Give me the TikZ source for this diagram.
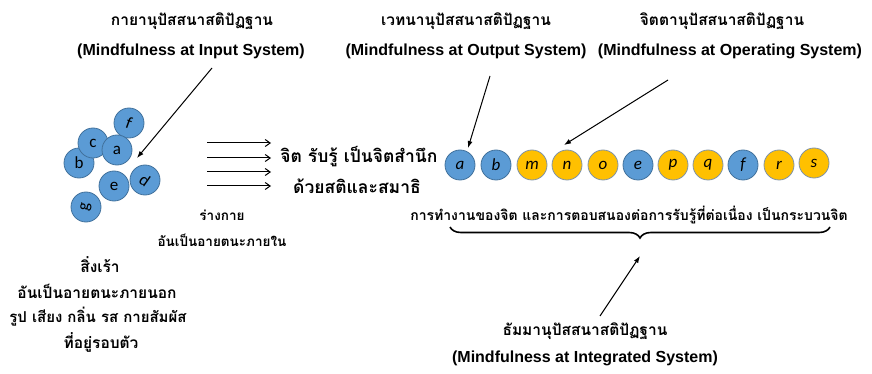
\documentclass[tikz,border=0pt]{standalone}
\usepackage{fontspec}
\setmainfont{Liberation Sans}
\newfontfamily\thaifont[Script=Thai]{Loma}
\newfontfamily\letterfont{Carlito}
\usetikzlibrary{arrows.meta,decorations.pathreplacing}
\definecolor{dotblue}{HTML}{5B9BD5}
\definecolor{dotblueedge}{HTML}{41719C}
\definecolor{dotgold}{HTML}{FFC000}
\definecolor{dotgoldedge}{HTML}{7F93A8}
\tikzset{
  thai/.style={font=\thaifont\bfseries\fontsize{15.5}{17}\selectfont, inner sep=0pt},
  thaibig/.style={font=\thaifont\bfseries\fontsize{17.5}{19}\selectfont, inner sep=0pt},
  thaismall/.style={font=\thaifont\bfseries\fontsize{13.5}{15}\selectfont, inner sep=0pt},
  eng/.style={font=\bfseries\fontsize{16}{18}\selectfont, inner sep=0pt},
  blob/.style={circle, minimum size=30pt, inner sep=0pt, line width=0.8pt,
    font=\letterfont\fontsize{17}{18}\selectfont},
  bluedot/.style={blob, fill=dotblue, draw=dotblueedge},
  golddot/.style={blob, fill=dotgold, draw=dotgoldedge},
  rowdot/.style={font=\letterfont\itshape\fontsize{17}{18}\selectfont},
  pointer/.style={-{Latex[length=7pt,width=5pt]}, line width=1pt},
  flow/.style={-{Straight Barb[length=5pt,width=7pt]}, line width=1pt},
}
\begin{document}
\begin{tikzpicture}[x=1pt,y=-1pt]
\useasboundingbox (0,0) rectangle (872,374);

% headings of the four foundations
\node[thai] (kt) at (192,21) {กายานุปัสสนาสติปัฏฐาน};
\node[eng]  (ke) at (191,51) {(Mindfulness at Input System)};
\node[thai] (vt) at (466,21) {เวทนานุปัสสนาสติปัฏฐาน};
\node[eng]  (ve) at (466,51) {(Mindfulness at Output System)};
\node[thai] (ct) at (722,21) {จิตตานุปัสสนาสติปัฏฐาน};
\node[eng]  (ce) at (730,51) {(Mindfulness at Operating System)};

% scattered stimuli
\node[bluedot] (sf) at (129,123) {\rotatebox{-20}{f}};
\node[bluedot] (sb) at (79,163) {b};
\node[bluedot] (sc) at (93,143) {c};
\node[bluedot] (sa) at (117,150) {a};
\node[bluedot] (se) at (114,186) {e};
\node[bluedot] (sd) at (145,180) {\rotatebox{-35}{d}};
\node[bluedot] (sg) at (86,207) {\rotatebox{80}{g}};
\coordinate (kin) at (137,158);

% four parallel flows
\foreach \i/\yy in {1/143,2/158,3/172,4/186}{
  \coordinate (fs\i) at (207,\yy);
  \coordinate (fe\i) at (271,\yy);
  \draw[flow] (fs\i) -- (fe\i);
}
\node[thaibig] (mind1) at (359,157) {จิต รับรู้ เป็นจิตสำนึก};
\node[thaibig] (mind2) at (357,186) {ด้วยสติและสมาธิ};

\node[thaismall] (body1) at (222,215) {ร่างกาย};
\node[thaismall] (body2) at (222,240) {อันเป็นอายตนะภายใน};

\node[thai] (out1) at (100,265) {สิ่งเร้า};
\node[thai] (out2) at (97,291) {อันเป็นอายตนะภายนอก};
\node[thai, font=\thaifont\bfseries\fontsize{15}{17}\selectfont] (out3) at (98,317) {รูป เสียง กลิ่น รส กายสัมผัส};
\node[thai] (out4) at (101,342) {ที่อยู่รอบตัว};

% stream of mental events
\node[bluedot,rowdot] (ra) at (460,165) {a};
\node[bluedot,rowdot] (rb) at (496,165) {b};
\node[golddot,rowdot] (rm) at (532,165) {m};
\node[golddot,rowdot] (rn) at (567,165) {n};
\node[golddot,rowdot] (ro) at (603,165) {o};
\node[bluedot,rowdot] (re) at (638,165) {e};
\node[golddot,rowdot] (rp) at (673,165) {p};
\node[golddot,rowdot] (rq) at (708,165) {q};
\node[bluedot,rowdot] (rf) at (743,165) {f};
\node[golddot,rowdot] (rr) at (779,165) {r};
\node[golddot,rowdot] (rs) at (814,163) {s};

\node[thai, font=\thaifont\bfseries\fontsize{14}{16}\selectfont] (proc) at (629,215) {การทำงานของจิต และการตอบสนองต่อการรับรู้ที่ต่อเนื่อง เป็นกระบวนจิต};

\coordinate (bl) at (450,227);
\coordinate (br) at (830,227);
\draw[line width=1.6pt, decorate, decoration={brace, mirror, amplitude=11pt}] (bl) -- (br);
\coordinate (btip) at (640,256);

\node[thai] (dt) at (585,331) {ธัมมานุปัสสนาสติปัฏฐาน};
\node[eng]  (de) at (585,358) {(Mindfulness at Integrated System)};

% pointers
\coordinate (p1) at (212,68);
\draw[pointer] (p1) -- (kin);
\coordinate (p2) at (490,76);
\coordinate (p2e) at (468,148);
\draw[pointer] (p2) -- (p2e);
\coordinate (p3) at (668,80);
\coordinate (p3e) at (564,145);
\draw[pointer] (p3) -- (p3e);
\coordinate (p4) at (600,316);
\draw[pointer] (p4) -- (btip);
\end{tikzpicture}
\end{document}
